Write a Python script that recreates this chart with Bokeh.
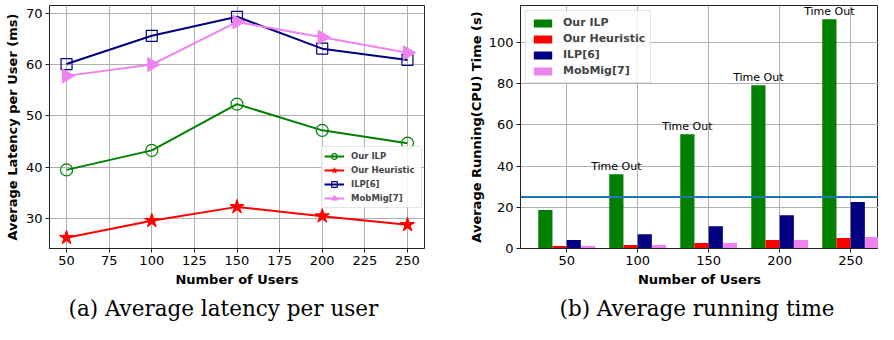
from bokeh.plotting import figure
from bokeh.models import (ColumnDataSource, Range1d, FixedTicker, Title, Legend, LegendItem, Span)
from bokeh.transform import dodge
from bokeh.layouts import row
from bokeh.embed import file_html
from bokeh.resources import INLINE
from bokeh.core.properties import value
import numpy as np

# ---------------- data ----------------
users = [50, 100, 150, 200, 250]

# (a) average latency per user (ms)
lat_our_ilp = [39.5, 43.3, 52.3, 47.2, 44.7]
lat_our_heur = [26.3, 29.6, 32.3, 30.5, 28.8]
lat_ilp6 = [60.1, 65.6, 69.3, 63.1, 60.9]
lat_mobmig = [57.8, 60.0, 68.3, 65.3, 62.3]

# (b) average running time (s)
rt_our_ilp = [18.7, 36.1, 55.5, 79.3, 111.3]
rt_our_heur = [1.2, 1.7, 2.7, 4.1, 5.1]
rt_ilp6 = [4.1, 6.9, 10.8, 16.2, 22.6]
rt_mobmig = [1.2, 1.7, 2.7, 4.1, 5.6]
timeout_labels = ["", "Time Out", "Time Out", "Time Out", "Time Out"]
threshold = 25

series_names = ["Our ILP", "Our Heuristic", "ILP[6]", "MobMig[7]"]
colors = ["green", "red", "navy", "violet"]
captions = ["(a) Average latency per user", "(b) Average running time"]

FONT = "DejaVu Sans"
TICK_FS = "13px"
LABEL_FS = "13px"
GRID = "#b0b0b0"
SPINE = "#222222"


def style(p):
    p.outline_line_color = SPINE
    p.outline_line_width = 1
    for ax in (p.xaxis, p.yaxis):
        ax.axis_line_color = SPINE
        ax.major_tick_line_color = SPINE
        ax.major_tick_out = 4
        ax.major_tick_in = 0
        ax.minor_tick_line_color = None
        ax.major_label_text_font = FONT
        ax.major_label_text_font_size = TICK_FS
        ax.major_label_text_color = "black"
        ax.axis_label_text_font = FONT
        ax.axis_label_text_font_size = LABEL_FS
        ax.axis_label_text_font_style = "bold"
        ax.axis_label_text_color = "black"
        ax.major_label_standoff = 3
    p.xgrid.grid_line_color = GRID
    p.ygrid.grid_line_color = GRID
    p.xgrid.grid_line_width = 1
    p.ygrid.grid_line_width = 1
    p.background_fill_color = "white"
    p.border_fill_color = "white"


def caption(p, text, offset):
    p.add_layout(Title(text=text, align="left", offset=offset, text_font="DejaVu Serif",
                       text_font_size="21.5px", text_font_style="normal",
                       text_color="black", standoff=8), "below")


# ---------------- (a) latency ----------------
pa = figure(width=440, height=324, output_backend="svg", toolbar_location=None,
            x_range=Range1d(40, 260), y_range=Range1d(24.2, 71.5),
            min_border_left=49, min_border_right=16, min_border_top=5,
            min_border_bottom=76)
style(pa)
pa.xaxis.ticker = FixedTicker(ticks=[50, 75, 100, 125, 150, 175, 200, 225, 250])
pa.yaxis.ticker = FixedTicker(ticks=[30, 40, 50, 60, 70])
pa.xaxis.axis_label = "Number of Users"
pa.yaxis.axis_label = "Average Latency per User (ms)"
pa.yaxis.axis_label_standoff = 3
pa.xaxis.axis_label_standoff = 4

src_a = ColumnDataSource(dict(x=users, ilp=lat_our_ilp, heur=lat_our_heur,
                              ilp6=lat_ilp6, mob=lat_mobmig))
l1 = pa.line("x", "ilp", source=src_a, color="green", line_width=2)
m1 = pa.scatter("x", "ilp", source=src_a, marker="circle", size=12,
                fill_color=None, line_color="green", line_width=1.2)
l2 = pa.line("x", "heur", source=src_a, color="red", line_width=2)
m2 = pa.scatter("x", "heur", source=src_a, marker="star", size=15,
                fill_color="red", line_color="red", line_width=1)
l3 = pa.line("x", "ilp6", source=src_a, color="navy", line_width=2)
m3 = pa.scatter("x", "ilp6", source=src_a, marker="square", size=11,
                fill_color=None, line_color="navy", line_width=1.2)
l4 = pa.line("x", "mob", source=src_a, color="violet", line_width=2)
m4 = pa.scatter("x", "mob", source=src_a, marker="triangle", size=14, angle=-np.pi / 2,
                fill_color="violet", line_color="violet", line_width=1)
leg_a = Legend(items=[LegendItem(label=series_names[0], renderers=[l1, m1]),
                      LegendItem(label=series_names[1], renderers=[l2, m2]),
                      LegendItem(label=series_names[2], renderers=[l3, m3]),
                      LegendItem(label=series_names[3], renderers=[l4, m4])],
               location=(272, 40))
leg_a.label_text_font = FONT
leg_a.label_text_font_size = "8.5px"
leg_a.label_text_font_style = "bold"
leg_a.glyph_width = 20
leg_a.glyph_height = 14
leg_a.label_height = 14
leg_a.label_width = 68
leg_a.label_standoff = 7
leg_a.spacing = -1
leg_a.padding = 2
leg_a.border_line_color = "#cccccc"
leg_a.background_fill_alpha = 0.85
pa.add_layout(leg_a, "center")
caption(pa, captions[0], 19)

# ---------------- (b) running time ----------------
pb = figure(width=438, height=324, output_backend="svg", toolbar_location=None,
            x_range=Range1d(17.5, 269.6), y_range=Range1d(0, 118),
            min_border_left=80, min_border_right=0, min_border_top=5,
            min_border_bottom=76)
style(pb)
pb.xaxis.ticker = FixedTicker(ticks=users)
pb.yaxis.ticker = FixedTicker(ticks=[0, 20, 40, 60, 80, 100])
pb.xaxis.axis_label = "Number of Users"
pb.yaxis.axis_label = "Average Running(CPU) Time (s)"
pb.yaxis.axis_label_standoff = 2
pb.xaxis.axis_label_standoff = 4

src_b = ColumnDataSource(dict(x=users, ilp=rt_our_ilp, heur=rt_our_heur,
                              ilp6=rt_ilp6, mob=rt_mobmig, lab=timeout_labels))
bw = 10
cols = ["ilp", "heur", "ilp6", "mob"]
offs = [-15, -5, 5, 15]
bar_items = []
for c, off, col, name in zip(cols, offs, colors, series_names):
    r = pb.vbar(x=dodge("x", off, range=pb.x_range), top=c, width=bw, bottom=0,
                source=src_b, fill_color=col, line_color=None)
    bar_items.append(LegendItem(label=name, renderers=[r]))

pb.add_layout(Span(location=threshold, dimension="width", line_color="#1f77b4",
                   line_width=2))

pb.text(x=dodge("x", -15, range=pb.x_range), y="ilp", text="lab", source=src_b,
        text_font=value(FONT), text_font_size="11px", text_align="center",
        text_baseline="bottom", y_offset=-1, text_color="black")

leg_b = Legend(items=bar_items, location="top_left")
leg_b.margin = 5
leg_b.label_text_font = FONT
leg_b.label_text_font_size = "11px"
leg_b.label_text_font_style = "bold"
leg_b.glyph_width = 23
leg_b.glyph_height = 10
leg_b.label_height = 10
leg_b.label_width = 82
leg_b.label_standoff = 9
leg_b.spacing = 3
leg_b.padding = 5
leg_b.border_line_color = "#cccccc"
leg_b.background_fill_alpha = 0.85
pb.add_layout(leg_b, "center")
caption(pb, captions[1], 39)

layout = row(pa, pb)
open("out.html", "w").write(file_html(layout, INLINE))
